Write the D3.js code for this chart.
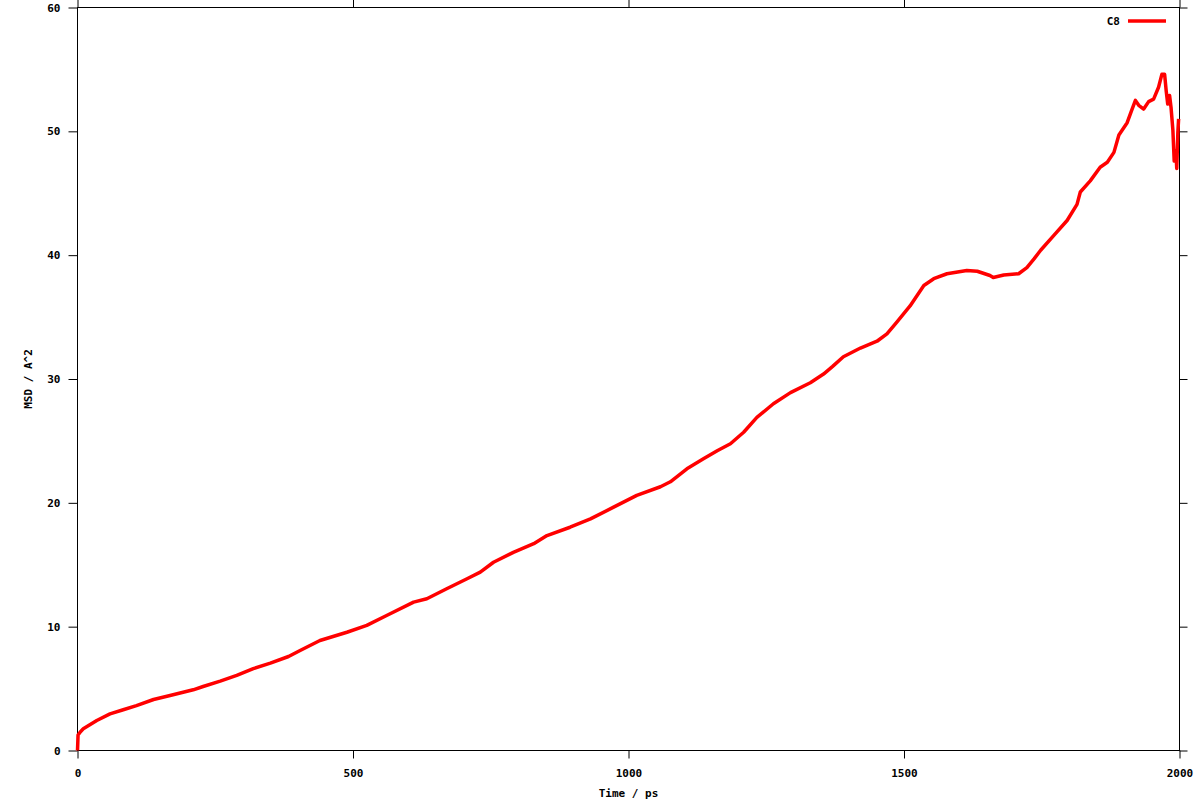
<!DOCTYPE html>
<html>
<head>
<meta charset="utf-8">
<script src="https://cdn.jsdelivr.net/npm/d3@7"></script>
<style>
  body { margin: 0; background: #fff; }
  text { font-family: "DejaVu Sans Mono", monospace; font-weight: bold; font-size: 11px; fill: #000; }
</style>
</head>
<body>
<script>
'use strict';

// MSD of C8 vs time
var timePs = [0, 0.5, 1, 5, 10.5, 35, 59, 83, 107, 138, 168, 210, 228, 259, 289, 319, 350,
  383, 404, 440, 489, 525, 561, 610, 634, 670, 707, 731, 755, 791, 828, 852, 894,
  931, 973, 1015, 1058, 1076, 1106, 1136, 1161, 1185, 1209, 1233, 1263, 1294, 1330,
  1354, 1370, 1390, 1421, 1451, 1469, 1487, 1511, 1536, 1554, 1578, 1614, 1633, 1656,
  1662, 1681, 1708, 1723, 1736, 1748, 1772, 1796, 1814, 1820, 1838, 1856, 1869, 1881,
  1890, 1905, 1914, 1920, 1926, 1935, 1944, 1953, 1962, 1968, 1973, 1976, 1978.6, 1982,
  1984.6, 1988, 1990.4, 1993.4, 1995, 1997, 1998.4];
var msd = [0, 0.6, 1.25, 1.5, 1.75, 2.42, 2.96, 3.29, 3.63, 4.12, 4.44, 4.9, 5.17, 5.6, 6.06, 6.61, 7.05,
  7.59, 8.08, 8.88, 9.55, 10.1, 10.9, 11.98, 12.25, 13.06, 13.87, 14.4, 15.2, 16.0, 16.7, 17.36, 18.03,
  18.7, 19.65, 20.6, 21.3, 21.7, 22.75, 23.55, 24.2, 24.77, 25.7, 26.9, 28.0, 28.9, 29.7,
  30.4, 31.0, 31.8, 32.5, 33.05, 33.65, 34.6, 35.9, 37.55, 38.1, 38.5, 38.76, 38.7, 38.36,
  38.2, 38.4, 38.5, 39.0, 39.7, 40.4, 41.6, 42.8, 44.1, 45.1, 46.0, 47.1, 47.5, 48.3,
  49.7, 50.7, 51.8, 52.5, 52.1, 51.8, 52.4, 52.6, 53.56, 54.6, 54.6, 53.2, 52.2, 52.9,
  51.95, 50.1, 47.6, 48.45, 47.0, 49.9, 51.0];

var xTicks = [0, 500, 1000, 1500, 2000];
var yTicks = [0, 10, 20, 30, 40, 50, 60];
var seriesName = "C8";

(function() {

  var width = 1200, height = 800;
  var plotLeft = 77.5, plotRight = 1179.5, plotTop = 7.5, plotBottom = 750.5;

  var svg = d3.select("body").append("svg")
    .attr("width", width)
    .attr("height", height);

  var x = d3.scaleLinear().domain([0, 2000]).range([plotLeft, plotRight]);
  var y = d3.scaleLinear().domain([0, 60]).range([plotBottom, plotTop]);

  // tick marks (outward, mirrored) and labels
  var axes = svg.append("g");
  axes.append("g").attr("transform", "translate(0," + plotBottom + ")")
    .call(d3.axisBottom(x).tickValues(xTicks).tickSize(8).tickPadding(11).tickFormat(d3.format("d")));
  axes.append("g").attr("transform", "translate(0," + plotTop + ")")
    .call(d3.axisTop(x).tickValues(xTicks).tickSize(8).tickFormat(""));
  axes.append("g").attr("transform", "translate(" + plotLeft + ",0)")
    .call(d3.axisLeft(y).tickValues(yTicks).tickSize(9).tickPadding(8).tickFormat(d3.format("d")));
  axes.append("g").attr("transform", "translate(" + plotRight + ",0)")
    .call(d3.axisRight(y).tickValues(yTicks).tickSize(8).tickFormat(""));
  axes.selectAll(".domain").remove();
  axes.selectAll(".tick line").attr("stroke", "#000");
  axes.selectAll(".tick text").attr("font-family", null).attr("font-size", null);

  // border
  svg.append("rect")
    .attr("x", plotLeft).attr("y", plotTop)
    .attr("width", plotRight - plotLeft).attr("height", plotBottom - plotTop)
    .attr("fill", "none").attr("stroke", "#000").attr("stroke-width", 1);

  // axis titles
  svg.append("text")
    .attr("x", (plotLeft + plotRight) / 2).attr("y", 797)
    .attr("text-anchor", "middle")
    .text("Time / ps");
  svg.append("text")
    .attr("transform", "translate(32," + ((plotTop + plotBottom) / 2) + ") rotate(-90)")
    .attr("text-anchor", "middle")
    .text("MSD / A^2");

  // data line
  var line = d3.line()
    .x(function(d, i) { return x(timePs[i]); })
    .y(function(d) { return y(d); });

  svg.append("path")
    .datum(msd)
    .attr("fill", "none")
    .attr("stroke", "#ff0000")
    .attr("stroke-width", 3.5)
    .attr("stroke-linejoin", "round")
    .attr("d", line);

  // legend
  svg.append("text")
    .attr("x", 1120).attr("y", 25)
    .attr("text-anchor", "end")
    .text(seriesName);
  svg.append("line")
    .attr("x1", 1128).attr("x2", 1166)
    .attr("y1", 21).attr("y2", 21)
    .attr("stroke", "#ff0000").attr("stroke-width", 3.5);

})();
</script>
</body>
</html>
